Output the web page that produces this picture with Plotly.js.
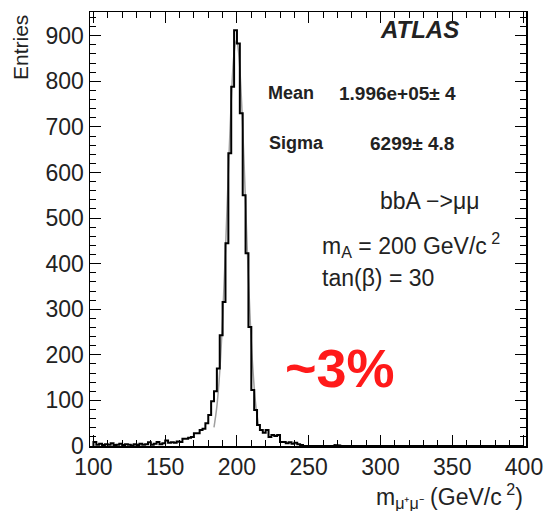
<!DOCTYPE html>
<html>
<head>
<meta charset="utf-8">
<script src="https://cdn.plot.ly/plotly-3.0.1.min.js"></script>
<style>html,body{margin:0;padding:0;background:#fff;}#chart{width:545px;height:511px;}</style>
</head>
<body>
<div id="chart"></div>
<script>
// Histogram: 2 GeV bins from 100 to 400 GeV (bin centres 101 ... 399)
const binLow = 100;
const binWidth = 2;
const counts = [
  9,3,5,2,4,3,6,2,3,5,
  2,4,3,1,4,2,5,3,4,8,
  3,5,9,4,6,12,7,8,7,10,
  9,16,16,18,20,28,28,35,38,50,
  68,98,120,170,243,316,445,642,788,912,
  883,730,550,423,261,123,79,46,35,29,
  35,20,24,22,24,9,9,6,8,5,
  7,4,2,0,1,0,0,1,0,0,
  0,0,0,0,2,1,0,0,0,0,
  0,0,0,0,0,0,0,0,0,0,
  0,0,0,0,0,0,0,0,0,0,
  0,0,0,0,0,0,0,0,0,0,
  0,0,0,0,0,0,0,0,0,0,
  0,0,0,0,0,0,0,0,0,0,
  0,0,0,0,0,0,0,0,0,0
];
// Gaussian fit curve (grey)
const fitX = [184,186,188,190,192,194,196,198,199.6,201,203,205,207,209,211,213,215];
const fitY = [41,87,163,279,430,600,756,862,890,868,769,617,446,292,173,93,45];

const xTicks = [100,150,200,250,300,350,400];
const yTicks = [0,100,200,300,400,500,600,700,800,900];

// build step outline from bin edges
const stepX = [], stepY = [];
stepX.push(binLow); stepY.push(0);
for (let i = 0; i < counts.length; i++) {
  const lo = binLow + i*binWidth, hi = lo + binWidth;
  stepX.push(lo); stepY.push(counts[i]);
  stepX.push(hi); stepY.push(counts[i]);
}
stepX.push(binLow + counts.length*binWidth); stepY.push(0);

const FONT = 'Liberation Sans, Arial, Helvetica, sans-serif';
const TXT = '#222';

const traces = [
  {x: fitX, y: fitY, type: 'scatter', mode: 'lines', line: {color: '#a0a0a0', width: 1.5, shape: 'spline'}, hoverinfo: 'skip'},
  {x: stepX, y: stepY, type: 'scatter', mode: 'lines', line: {color: '#000', width: 2}, hoverinfo: 'skip'}
];

const ann = (text, x, y, size, opts) => Object.assign({
  text: text, x: x, y: y, xref: 'paper', yref: 'paper', showarrow: false,
  font: {family: FONT, size: size, color: TXT}, xanchor: 'left', yanchor: 'middle'
}, opts || {});

// pixel helpers for paper coords: plot area x 90..526, y 12..446
const px = v => (v - 90) / 436;
const py = v => (446 - v) / 434;

const layout = {
  width: 545, height: 511,
  margin: {l: 90, r: 19, t: 12, b: 65},
  paper_bgcolor: '#fff', plot_bgcolor: '#fff',
  showlegend: false,
  xaxis: {
    range: [97.6, 401.4], tickvals: xTicks, ticktext: xTicks.map(String),
    ticks: 'inside', ticklen: 11, tickwidth: 1, tickcolor: '#000',
    mirror: 'ticks', showline: true, linecolor: '#000', linewidth: 1.5,
    showgrid: false, zeroline: false,
    minor: {ticks: 'inside', dtick: 10, tick0: 100, ticklen: 6, tickwidth: 1, tickcolor: '#000', showgrid: false},
    tickfont: {family: FONT, size: 23, color: TXT}
  },
  yaxis: {
    range: [0, 952], tickvals: yTicks, ticktext: yTicks.map(String),
    ticks: 'inside', ticklen: 11, tickwidth: 1, tickcolor: '#000',
    mirror: 'ticks', showline: true, linecolor: '#000', linewidth: 1.5,
    showgrid: false, zeroline: false,
    minor: {ticks: 'inside', dtick: 20, tick0: 0, ticklen: 6, tickwidth: 1, tickcolor: '#000', showgrid: false},
    tickfont: {family: FONT, size: 23, color: TXT}
  },
  annotations: [
    ann('Entries', px(21), py(48), 21, {textangle: -90, xanchor: 'center', yanchor: 'middle'}),
    ann('<b><i>ATLAS</i></b>', px(378), py(29), 24),
    ann('<b>Mean</b>', px(266), py(93), 18),
    ann('<b>1.996e+05± 4</b>', px(337), py(93), 19),
    ann('<b>Sigma</b>', px(267), py(143), 18),
    ann('<b>6299± 4.8</b>', px(368), py(143), 19),
    ann('bbA −>μμ', px(378), py(201), 23),
    ann('m<sub>A</sub> = 200 GeV/c<sup> 2</sup>', px(320), py(245), 23),
    ann('tan(β) = 30', px(320), py(278), 23),
    ann('<b>~3%</b>', px(283), py(368), 54, {font: {family: FONT, size: 54, color: '#ff1a1a'}}),
    ann('m<sub>μ⁺μ⁻</sub> (GeV/c<sup> 2</sup>)', px(525), py(496), 23, {xanchor: 'right'})
  ]
};

Plotly.newPlot('chart', traces, layout, {staticPlot: true, displayModeBar: false});
</script>
</body>
</html>
